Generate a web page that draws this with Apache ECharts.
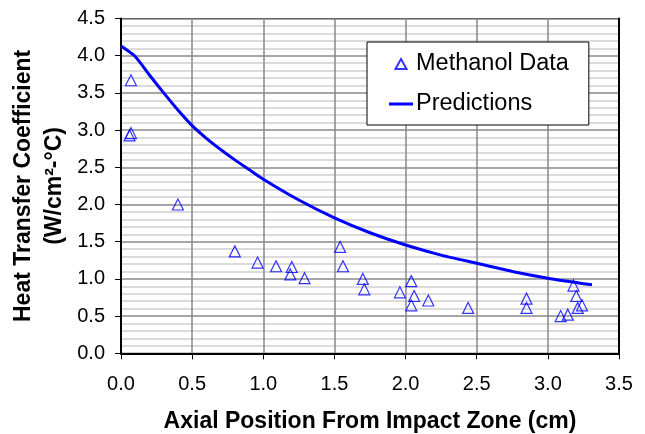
<!DOCTYPE html>
<html>
<head>
    <meta charset="UTF-8">
    <title>Heat transfer coefficient vs axial position</title>
    <style>
        html, body {
            margin: 0;
            padding: 0;
            background: #fff;
        }
        #chart-container {
            width: 645px;
            height: 434px;
        }
    </style>
</head>
<body>
<div id="chart-container"></div>

<script src="https://cdn.jsdelivr.net/npm/echarts@6/dist/echarts.min.js"></script>
<script>
    // measured points (cm, W/cm2-C)
    const methanolX = [0.07, 0.07, 0.06, 0.40, 0.80, 0.96, 1.09, 1.20, 1.19, 1.29, 1.54, 1.56, 1.70, 1.71,
        1.96, 2.04, 2.06, 2.04, 2.16, 2.44, 2.85, 2.85, 3.09, 3.14, 3.18, 3.20, 3.21, 3.24];
    const methanolY = [3.67, 2.96, 2.93, 2.00, 1.37, 1.22, 1.17, 1.16, 1.06, 1.01, 1.43, 1.17, 1.00, 0.86,
        0.82, 0.97, 0.77, 0.645, 0.71, 0.61, 0.735, 0.61, 0.50, 0.52, 0.91, 0.77, 0.61, 0.645];

    // model curve
    const predX = [0, 0.1, 0.2, 0.3, 0.4, 0.5, 0.6, 0.7, 0.8, 0.9, 1.0, 1.25, 1.5, 1.75, 2.0, 2.25, 2.5, 2.75, 3.0, 3.31];
    const predY = [4.13, 3.99, 3.74, 3.50, 3.27, 3.06, 2.89, 2.74, 2.60, 2.47, 2.34, 2.06, 1.82, 1.62, 1.455, 1.32, 1.21, 1.10, 1.01, 0.92];

    const xTicks = ['0.0', '0.5', '1.0', '1.5', '2.0', '2.5', '3.0', '3.5'];
    const yTicks = ['0.0', '0.5', '1.0', '1.5', '2.0', '2.5', '3.0', '3.5', '4.0', '4.5'];

    const FONT = '"Liberation Sans", Arial, sans-serif';

    const chart = echarts.init(document.getElementById('chart-container'));

    const option = {
        animation: false,
        textStyle: { fontFamily: FONT, color: '#000' },
        grid: {
            left: 121, right: 26, top: 18.5, bottom: 80.7,
            containLabel: false,
            outerBoundsMode: 'none',
            show: true,
            borderColor: '#000',
            borderWidth: 1
        },
        legend: {
            orient: 'vertical',
            left: 367,
            top: 42,
            padding: [10, 20, 9, 22],
            itemGap: 16,
            itemWidth: 24,
            itemHeight: 10,
            backgroundColor: '#fff',
            borderColor: '#000',
            borderWidth: 1,
            borderRadius: 0,
            textStyle: { fontFamily: FONT, fontSize: 23.5, color: '#000', padding: [0, 0, 0, -2] },
            data: [
                { name: 'Methanol Data', icon: 'path://M5,0 L10,9 L0,9 Z' },
                { name: 'Predictions', icon: 'path://M0,0 L24,0 L24,3 L0,3 Z', itemStyle: { color: '#0000ff' } }
            ]
        },
        xAxis: {
            type: 'value',
            min: 0, max: 3.5, interval: 0.5,
            name: 'Axial Position From Impact Zone (cm)',
            nameLocation: 'middle',
            nameGap: 57,
            nameMoveOverlap: false,
            nameTextStyle: { fontFamily: FONT, fontSize: 23, fontWeight: 'bold', color: '#000' },
            axisLine: { onZero: false, lineStyle: { color: '#000', width: 2 } },
            axisTick: { show: true, length: 6, lineStyle: { color: '#000', width: 1 } },
            axisLabel: {
                margin: 21, fontSize: 20, color: '#000',
                formatter: function (v) { return xTicks[Math.round(v / 0.5)]; }
            },
            splitLine: { show: true, lineStyle: { color: '#888', width: 1.5 } }
        },
        yAxis: [{
            type: 'value',
            min: 0, max: 4.5, interval: 0.5,
            name: 'Heat Transfer Coefficient\n(W/cm²-°C)',
            nameLocation: 'middle',
            nameRotate: 90,
            nameGap: 51,
            nameMoveOverlap: false,
            nameTextStyle: { fontFamily: FONT, fontSize: 23, fontWeight: 'bold', color: '#000', lineHeight: 31 },
            axisLine: { show: true, onZero: false, lineStyle: { color: '#000', width: 2 } },
            axisTick: { show: true, length: 6, lineStyle: { color: '#000', width: 1 } },
            axisLabel: {
                margin: 16, fontSize: 20, color: '#000',
                formatter: function (v) { return yTicks[Math.round(v / 0.5)]; }
            },
            splitLine: { show: true, lineStyle: { color: '#888', width: 1.5 } },
            minorTick: { show: false, splitNumber: 5 },
            minorSplitLine: { show: true, lineStyle: { color: '#cfcfcf', width: 1.5 } }
        }, {
            type: 'value',
            position: 'right',
            min: 0, max: 4.5, interval: 0.5,
            axisLine: { show: true, onZero: false, lineStyle: { color: '#000', width: 2 } },
            axisTick: { show: false },
            axisLabel: { show: false },
            splitLine: { show: false }
        }],
        series: [{
            name: 'Methanol Data',
            type: 'scatter',
            symbol: 'triangle',
            symbolSize: 11,
            color: '#0000ff',
            itemStyle: { color: 'rgba(0,0,0,0)', borderColor: '#0000ff', borderWidth: 1.2 },
            data: methanolX.map(function (x, i) { return [x, methanolY[i]]; }),
            z: 3
        }, {
            name: 'Predictions',
            type: 'line',
            symbol: 'none',
            smooth: 0.2,
            color: '#0000ff',
            lineStyle: { color: '#0000ff', width: 3 },
            data: predX.map(function (x, i) { return [x, predY[i]]; }),
            z: 4
        }]
    };

    chart.setOption(option);
</script>
</body>
</html>
